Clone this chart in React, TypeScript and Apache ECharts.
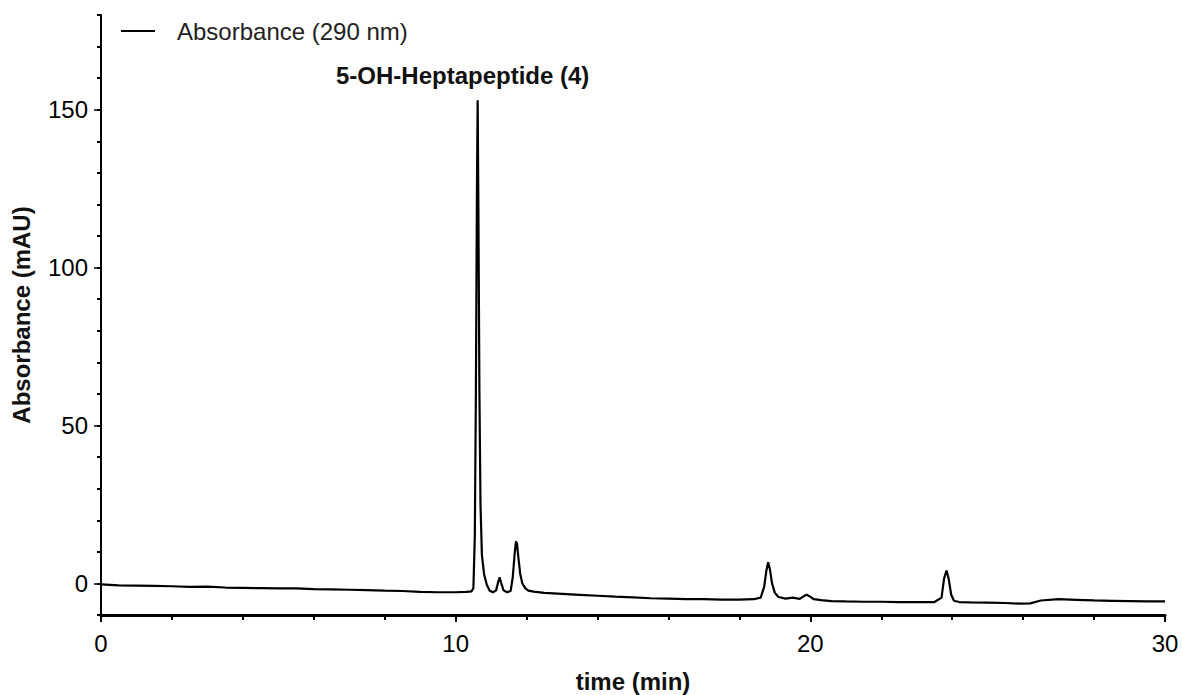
import React, { useEffect, useRef } from "react";
import * as echarts from "echarts";

const seriesName = "Absorbance (290 nm)";
const peakLabel = "5-OH-Heptapeptide (4)";
const xTitle = "time (min)";
const yTitle = "Absorbance (mAU)";
const yMajorTicks = [0, 50, 100, 150];

// time (min)
const times = [
  0, 0.5, 1, 1.5, 2, 2.5, 3, 3.5, 4, 4.5, 5, 5.5, 6, 6.5, 7, 7.5, 8, 8.5, 9, 9.5, 10, 10.3, 10.45,
  10.5, 10.54, 10.57, 10.6, 10.62, 10.64, 10.67, 10.7, 10.74, 10.8, 10.88, 10.96, 11.05, 11.14,
  11.2, 11.24, 11.28, 11.35, 11.45, 11.55, 11.61, 11.66, 11.7, 11.73, 11.77, 11.82, 11.88, 11.96,
  12.05, 12.2, 12.5, 13, 13.5, 14, 14.5, 15, 15.5, 16, 16.5, 17, 17.5, 18, 18.4, 18.6, 18.7,
  18.76, 18.81, 18.86, 18.92, 19.0, 19.1, 19.3, 19.5, 19.7, 19.82, 19.9, 19.98, 20.1, 20.3, 20.6,
  21, 21.5, 22, 22.5, 23, 23.5, 23.7, 23.77, 23.84, 23.9, 23.97, 24.05, 24.2, 24.5, 25, 25.5,
  25.9, 26.2, 26.5, 27, 27.5, 28, 28.5, 29, 29.5, 30,
];
// absorbance (mAU)
const absorbance = [
  -0.3, -0.6, -0.7, -0.8, -0.9, -1.1, -1.0, -1.3, -1.4, -1.5, -1.6, -1.6, -1.8, -1.9, -2.0, -2.1,
  -2.3, -2.4, -2.7, -2.8, -2.8, -2.7, -2.5, -1.5, 15, 60, 125, 153, 120, 60, 25, 9, 3, -0.5, -2.3,
  -2.8, -2.2, 0.5, 1.9, 0.3, -2.2, -2.8, -2.4, 2, 9, 13.3, 12.5, 8, 3, 0, -1.5, -2.3, -2.6, -3.0,
  -3.3, -3.6, -3.9, -4.2, -4.4, -4.7, -4.8, -5.0, -5.0, -5.1, -5.1, -5.0, -4.5, -1, 4, 6.7, 4.5,
  0, -3, -4.3, -4.8, -4.5, -4.9, -4.0, -3.6, -4.1, -5.0, -5.3, -5.6, -5.7, -5.8, -5.8, -5.9, -5.9,
  -5.9, -4.5, 1.5, 4.1, 1.5, -3.5, -5.5, -5.9, -6.0, -6.1, -6.2, -6.4, -6.3, -5.4, -5.0, -5.2,
  -5.4, -5.5, -5.6, -5.7, -5.7,
];

const data = times.map((t, i) => [t, absorbance[i]]);

const FONT = "'Liberation Sans', Arial, sans-serif";

export default function App() {
  const ref = useRef<HTMLDivElement>(null);
  useEffect(() => {
    if (!ref.current) return;
    const chart = echarts.init(ref.current, null, { renderer: "svg" });
    chart.setOption({
      animation: false,
      backgroundColor: "#ffffff",
      textStyle: { fontFamily: FONT },
      grid: { left: 101, right: 17, top: 15, bottom: 80, containLabel: false, outerBoundsMode: "none" },
      legend: {
        show: true,
        left: 121,
        top: 19,
        padding: 0,
        itemWidth: 34,
        itemHeight: 2,
        itemGap: 10,
        icon: "rect",
        textStyle: { fontSize: 24, color: "#222", fontFamily: FONT, padding: [0, 0, 0, 17] },
        data: [{ name: seriesName, itemStyle: { color: "#000" } }],
      },
      xAxis: {
        type: "value",
        min: 0,
        max: 30,
        interval: 10,
        position: "bottom",
        name: xTitle,
        nameLocation: "middle",
        nameGap: 54,
        nameTextStyle: { fontSize: 24, fontWeight: "bold", color: "#111", fontFamily: FONT },
        axisLine: { show: true, onZero: false, lineStyle: { color: "#000", width: 3 } },
        axisTick: { show: true, inside: false, length: 7, lineStyle: { color: "#000", width: 2 } },
        minorTick: { show: true, splitNumber: 5, length: 5, lineStyle: { color: "#000", width: 2 } },
        axisLabel: { fontSize: 24, color: "#000", margin: 16, fontFamily: FONT },
        splitLine: { show: false },
        minorSplitLine: { show: false },
      },
      yAxis: [
        {
          type: "value",
          min: -10,
          max: 180,
          position: "left",
          name: yTitle,
          nameLocation: "middle",
          nameGap: 68,
          nameTextStyle: { fontSize: 24, fontWeight: "bold", color: "#111", fontFamily: FONT },
          axisLine: { show: true, onZero: false, lineStyle: { color: "#000", width: 2 } },
          axisTick: {
            show: true,
            inside: false,
            length: 7,
            customValues: yMajorTicks,
            lineStyle: { color: "#000", width: 1.5 },
          },
          axisLabel: { fontSize: 24, color: "#000", margin: 13, customValues: yMajorTicks, fontFamily: FONT },
          splitLine: { show: false },
        },
        {
          type: "value",
          min: -10,
          max: 180,
          interval: 10,
          position: "left",
          axisLine: { show: false, onZero: false },
          axisTick: { show: true, inside: false, length: 4, lineStyle: { color: "#000", width: 2 } },
          axisLabel: { show: false },
          splitLine: { show: false },
        },
      ],
      graphic: [
        {
          type: "text",
          left: 336,
          top: 63,
          style: {
            text: peakLabel,
            fontSize: 24,
            fontWeight: "bold",
            fontFamily: FONT,
            fill: "#111",
          },
        },
      ],
      series: [
        {
          name: seriesName,
          type: "line",
          data,
          yAxisIndex: 0,
          showSymbol: false,
          symbol: "none",
          lineStyle: { color: "#000", width: 2.2 },
          itemStyle: { color: "#000" },
          emphasis: { disabled: true },
        },
      ],
    });
    return () => chart.dispose();
  }, []);
  return (
    <div
      ref={ref}
      style={{ position: "fixed", left: 0, top: 0, width: 1182, height: 695, background: "#fff" }}
    />
  );
}
